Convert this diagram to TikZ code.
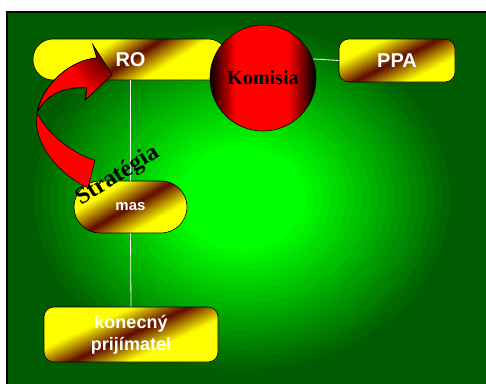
\documentclass[tikz,border=0pt]{standalone}
\usepackage{fontspec}
\setmainfont{Liberation Serif}
\setsansfont{Liberation Sans}
\definecolor{darkgreen}{RGB}{0,92,0}
\definecolor{brightgreen}{RGB}{0,255,0}
\definecolor{gold}{RGB}{255,255,0}
\definecolor{rust}{RGB}{95,8,0}
\newcommand{\goldpanel}[6]{%
  \begin{scope}
    \clip[rounded corners=#5] (#1,#2) rectangle ++(#3,#4);
    \begin{scope}[shift={(#1+#3/2,#2+#4/2)},rotate=#6]
      \foreach \s in {-80,-78,...,78}{
        \pgfmathsetmacro\goldmix{100*min(1,abs(\s+1)/24)}
        \fill[gold!\goldmix!rust] (-250,\s) rectangle (250,\s+2.4);
      }
    \end{scope}
  \end{scope}}

\begin{document}
\begin{tikzpicture}[x=1pt,y=-1pt,
    goldbox/.style={draw=black,line width=0.6pt,inner sep=0pt,text=white,align=center},
    link/.style={draw=white,line width=0.8pt}]
    \useasboundingbox (0,0) rectangle (486,383);
    \fill[white] (0,0) rectangle (486,383);
    \begin{scope}
        \clip (7,12) rectangle (492,390);
        \fill[darkgreen] (7,12) rectangle (492,390);
        \foreach \k in {30,29,...,1}{
            \pgfmathsetmacro\glow{100*max(0,min(1,(215-8*\k)/150))}
            \fill[brightgreen!\glow!darkgreen] (242,198) ellipse[x radius=8*\k, y radius=6.6*\k];
        }
    \end{scope}
    \draw[line width=1.6pt] (7,390) -- (7,12) -- (492,12);

    \goldpanel{33}{39}{195}{41}{20pt}{32}
    \node[goldbox,minimum width=195pt,minimum height=41pt,rounded corners=20pt,font=\sffamily\bfseries\fontsize{20}{24}\selectfont] (ro) at (130.5,59.5) {RO};
    \goldpanel{339}{39}{116}{43}{10pt}{27}
    \node[goldbox,minimum width=116pt,minimum height=43pt,rounded corners=10pt,font=\sffamily\bfseries\fontsize{20}{24}\selectfont] (ppa) at (397,60.5) {PPA};
    \goldpanel{74}{181}{113}{52}{26pt}{30}
    \node[goldbox,minimum width=113pt,minimum height=52pt,rounded corners=26pt,font=\sffamily\bfseries\fontsize{15}{18}\selectfont] (mas) at (130.5,207) {mas};
    \goldpanel{44}{307}{174}{55}{10pt}{25}
    \node[goldbox,minimum width=174pt,minimum height=55pt,rounded corners=10pt,font=\sffamily\bfseries\fontsize{18}{22}\selectfont] (prijimatel) at (131,334.5) {konecný\\prijímatel};

    \begin{scope}
        \clip (263,78) circle[radius=53pt];
        \foreach \i in {0,...,52}{
            \pgfmathsetmacro\redmix{100*min(1,min(4*(\i+0.5)/53,4*(1-(\i+0.5)/53)))}
            \fill[red!\redmix!black] (210+2*\i,24) rectangle ++(2.3,110);
        }
    \end{scope}
    \node[circle,draw=black,line width=0.6pt,minimum size=106pt,inner sep=0pt,font=\rmfamily\bfseries\fontsize{20}{24}\selectfont] (komisia) at (263,78) {Komisia};

    \draw[link] (ro.south) -- (mas.north);
    \draw[link] (mas.south) -- (prijimatel.north);
    \draw[link] (komisia.21) -- (ppa.west);

    \filldraw[fill=red,line width=0.6pt] (88,188) .. controls (55,172) and (32,140) .. (37,113)
        .. controls (42,85) and (70,60) .. (97,58) -- (93,45) -- (112,75) -- (85,100) -- (87,88)
        .. controls (65,86) and (45,95) .. (37,113)
        .. controls (48,135) and (75,155) .. (95,160) -- cycle;
    \begin{scope}
        \clip (37,113) .. controls (42,85) and (70,60) .. (97,58) -- (93,45) -- (112,75) -- (85,100) -- (87,88)
            .. controls (65,86) and (45,95) .. (37,113);
        \shade[inner color=red!15!black,outer color=red] (112,52) circle[radius=45pt];
    \end{scope}
    \draw[line width=0.6pt] (37,113) .. controls (42,85) and (70,60) .. (97,58) -- (93,45) -- (112,75) -- (85,100) -- (87,88)
        .. controls (65,86) and (45,95) .. (37,113);

    \node[rotate=32,font=\rmfamily\bfseries\fontsize{24}{28}\selectfont] (strategia) at (118,176) {Stratégia};
\end{tikzpicture}
\end{document}
